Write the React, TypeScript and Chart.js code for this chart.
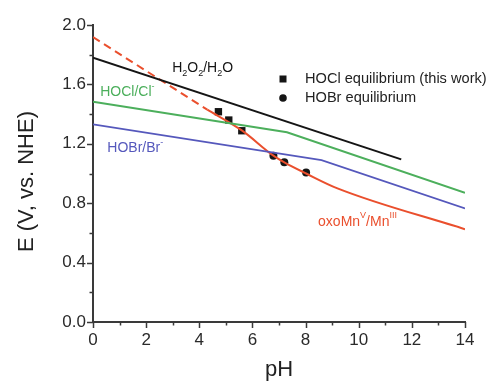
import React, { useEffect, useRef } from "react";
import { Chart, registerables } from "chart.js";

Chart.register(...registerables);

// ---- data ----
const h2o2PH = [0, 11.6];
const h2o2E = [1.78, 1.095];

const hoclPH = [0, 7.3, 14];
const hoclE = [1.484, 1.278, 0.87];

const hobrPH = [0, 8.6, 14];
const hobrE = [1.331, 1.09, 0.765];

const mnDashPH = [0, 4.3];
const mnDashE = [1.918, 1.43];

const mnPH = [4.3, 5.6, 6.79, 7.2, 8.02, 9.2, 14];
const mnE = [1.43, 1.29, 1.12, 1.075, 1.0, 0.9, 0.625];

const hoclEqPH = [4.72, 5.11, 5.6];
const hoclEqE = [1.416, 1.36, 1.288];

const hobrEqPH = [6.79, 7.2, 8.02];
const hobrEqE = [1.119, 1.075, 1.007];

const xMin = 0, xMax = 14, xStep = 1;
const yMin = 0, yMax = 2.0, yStep = 0.2;
const yTitle = "E (V, vs. NHE)";
const xTitle = "pH";

// ---- styles ----
const FONT = "'Liberation Sans', Arial, Helvetica, sans-serif";
const AXIS = "#3a3a3a";
const BLACK = "#151515";
const RED = "#ea4f2d";
const GREEN = "#4caf5c";
const BLUE = "#5558bc";

const pts = (xs: number[], ys: number[]) => xs.map((x, i) => ({ x, y: ys[i] }));

type Part = { t: string; k?: "sub" | "sup" };
const curveLabels: { parts: Part[]; x: number; y: number; color: string }[] = [
  { parts: [{ t: "H" }, { t: "2", k: "sub" }, { t: "O" }, { t: "2", k: "sub" }, { t: "/H" }, { t: "2", k: "sub" }, { t: "O" }], x: 2.98, y: 1.71, color: BLACK },
  { parts: [{ t: "HOCl/Cl" }, { t: "-", k: "sup" }], x: 0.27, y: 1.545, color: GREEN },
  { parts: [{ t: "HOBr/Br" }, { t: "-", k: "sup" }], x: 0.54, y: 1.17, color: BLUE },
  { parts: [{ t: "oxoMn" }, { t: "V", k: "sup" }, { t: "/Mn" }, { t: "III", k: "sup" }], x: 8.47, y: 0.675, color: RED },
];

const ticksPlugin = {
  id: "customTicks",
  afterDraw(chart: any) {
    const ctx = chart.ctx as CanvasRenderingContext2D;
    const xs = chart.scales.x;
    const ys = chart.scales.y;
    ctx.save();
    ctx.strokeStyle = AXIS;
    ctx.lineWidth = 1.5;
    xs.ticks.forEach((t: any) => {
      const px = Math.round(xs.getPixelForValue(t.value)) + 0.5;
      const major = Math.round(t.value) % 2 === 0;
      const len = major ? 6 : 3.5;
      ctx.beginPath();
      ctx.moveTo(px, xs.top);
      ctx.lineTo(px, xs.top + len);
      ctx.stroke();
    });
    ys.ticks.forEach((t: any) => {
      const py = Math.round(ys.getPixelForValue(t.value)) + 0.5;
      const r = t.value / 0.4;
      const major = Math.abs(r - Math.round(r)) < 1e-6;
      const len = major ? 6 : 3.5;
      ctx.beginPath();
      ctx.moveTo(ys.right, py);
      ctx.lineTo(ys.right - len, py);
      ctx.stroke();
    });
    // y-axis title
    ctx.save();
    ctx.translate(27, (chart.chartArea.top + chart.chartArea.bottom) / 2 + 8);
    ctx.rotate(-Math.PI / 2);
    ctx.textAlign = "center";
    ctx.textBaseline = "middle";
    ctx.font = `22px ${FONT}`;
    ctx.fillStyle = "#222";
    ctx.fillText(yTitle, 0, 0);
    ctx.restore();
    ctx.restore();
  },
};

const labelsPlugin = {
  id: "curveLabels",
  afterDatasetsDraw(chart: any) {
    const ctx = chart.ctx as CanvasRenderingContext2D;
    const xs = chart.scales.x;
    const ys = chart.scales.y;
    ctx.save();
    ctx.textBaseline = "middle";
    ctx.textAlign = "left";
    curveLabels.forEach((lab) => {
      let px = xs.getPixelForValue(lab.x);
      const py = ys.getPixelForValue(lab.y);
      ctx.fillStyle = lab.color;
      lab.parts.forEach((p) => {
        if (p.k) {
          ctx.font = `9px ${FONT}`;
          const dy = p.k === "sub" ? 5 : -6;
          ctx.fillText(p.t, px, py + dy);
          px += ctx.measureText(p.t).width;
        } else {
          ctx.font = `14px ${FONT}`;
          ctx.fillText(p.t, px, py);
          px += ctx.measureText(p.t).width;
        }
      });
    });

    // legend for the marker series
    const legendItems = [5, 6];
    const mx = chart.chartArea.right - 182;
    legendItems.forEach((di, i) => {
      const ds = chart.data.datasets[di];
      const my = chart.chartArea.top + 54 + i * 19;
      ctx.fillStyle = BLACK;
      if (ds.pointStyle === "rect") {
        ctx.fillRect(mx - 3.5, my - 3.5, 7, 7);
      } else {
        ctx.beginPath();
        ctx.arc(mx, my, 3.8, 0, Math.PI * 2);
        ctx.fill();
      }
      ctx.font = `14.6px ${FONT}`;
      ctx.fillStyle = "#222";
      ctx.fillText(ds.label, mx + 22, my);
    });
    ctx.restore();
  },
};

export default function App() {
  const ref = useRef<HTMLCanvasElement | null>(null);

  useEffect(() => {
    if (!ref.current) return;
    const chart = new Chart(ref.current, {
      type: "scatter",
      data: {
        datasets: [
          { label: "H2O2/H2O", data: pts(h2o2PH, h2o2E), showLine: true, borderColor: BLACK, borderWidth: 2, pointRadius: 0 },
          { label: "HOCl/Cl-", data: pts(hoclPH, hoclE), showLine: true, borderColor: GREEN, borderWidth: 2, pointRadius: 0 },
          { label: "HOBr/Br-", data: pts(hobrPH, hobrE), showLine: true, borderColor: BLUE, borderWidth: 1.6, pointRadius: 0 },
          { label: "oxoMn dashed", data: pts(mnDashPH, mnDashE), showLine: true, borderColor: RED, borderWidth: 2, borderDash: [8, 5], pointRadius: 0 },
          { label: "oxoMnV/MnIII", data: pts(mnPH, mnE), showLine: true, borderColor: RED, borderWidth: 2, pointRadius: 0, cubicInterpolationMode: "monotone" },
          { label: "HOCl equilibrium (this work)", data: pts(hoclEqPH, hoclEqE), showLine: false, pointStyle: "rect", pointRadius: 5.2, backgroundColor: BLACK, borderColor: BLACK, borderWidth: 0 },
          { label: "HOBr equilibrium", data: pts(hobrEqPH, hobrEqE), showLine: false, pointStyle: "circle", pointRadius: 4, backgroundColor: BLACK, borderColor: BLACK, borderWidth: 0 },
        ],
      } as any,
      options: {
        animation: false,
        responsive: false,
        devicePixelRatio: 1,
        layout: { padding: { top: 25, right: 22, left: 0, bottom: 0 } },
        plugins: { legend: { display: false }, tooltip: { enabled: false } },
        scales: {
          x: {
            type: "linear",
            min: xMin,
            max: xMax,
            afterFit: (s: any) => { s.height = 62; },
            grid: { display: false, drawTicks: false },
            border: { display: true, color: AXIS, width: 2 },
            ticks: {
              stepSize: xStep,
              autoSkip: false,
              maxRotation: 0,
              padding: 8,
              color: "#2a2a2a",
              font: { family: FONT, size: 17 },
              callback: (v: any) => (Math.round(Number(v)) % 2 === 0 ? String(Math.round(Number(v))) : ""),
            },
            title: { display: true, text: xTitle, color: "#222", font: { family: FONT, size: 22 }, padding: { top: 0, bottom: 1 } },
          },
          y: {
            type: "linear",
            min: yMin,
            max: yMax,
            afterFit: (s: any) => { s.width = 93; },
            grid: { display: false, drawTicks: false },
            border: { display: true, color: AXIS, width: 2 },
            ticks: {
              stepSize: yStep,
              autoSkip: false,
              padding: 7,
              color: "#2a2a2a",
              font: { family: FONT, size: 17 },
              callback: (v: any) => {
                const r = Number(v) / 0.4;
                return Math.abs(r - Math.round(r)) < 1e-6 ? Number(v).toFixed(1) : "";
              },
            },
            title: { display: false },
          },
        },
      } as any,
      plugins: [ticksPlugin, labelsPlugin],
    });
    return () => chart.destroy();
  }, []);

  return (
    <div style={{ position: "absolute", left: 0, top: 0, width: 487, height: 384, background: "#fff" }}>
      <canvas ref={ref} width={487} height={384} />
    </div>
  );
}
